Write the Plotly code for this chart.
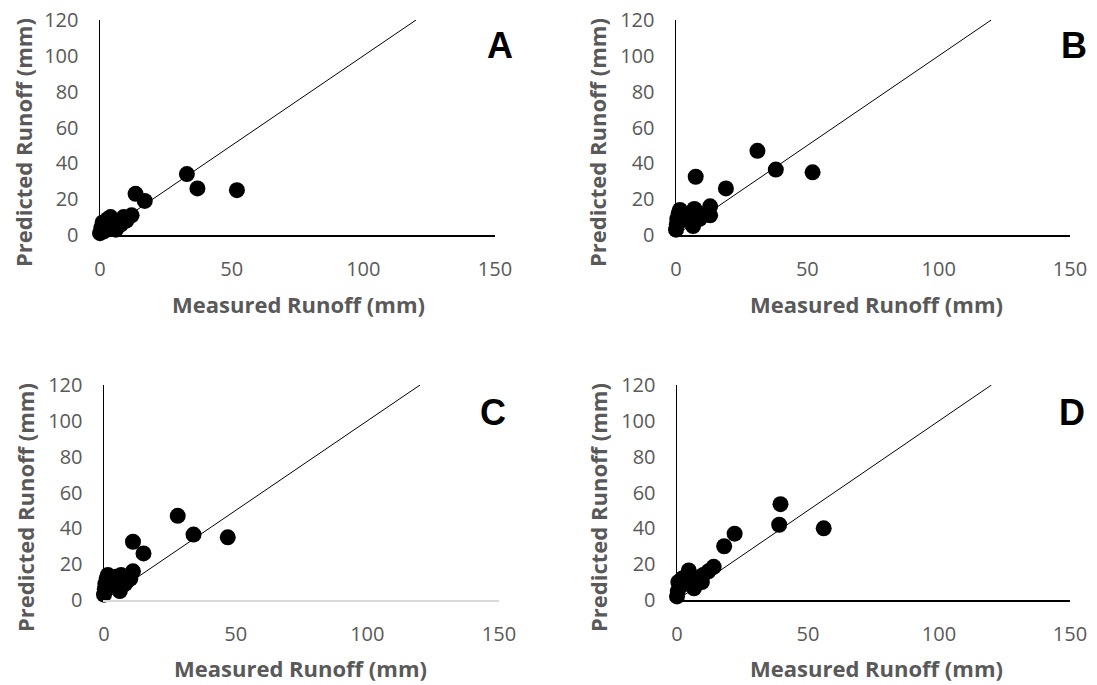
import plotly.graph_objects as go

# ---- data ----
panel_labels = ["A", "B", "C", "D"]

measured_A = [0, 0.5, 1, 1.5, 2, 3, 4, 5, 6, 7, 8, 9, 10, 12, 13.5, 17, 33, 37, 52]
predicted_A = [1, 4, 7, 2, 6, 9, 10, 5, 3, 7, 6, 10, 8, 11, 23, 19, 34, 26, 25]

measured_B = [0, 0.3, 0.5, 1, 1.5, 2, 3, 5, 6.5, 7, 7.5, 9, 10, 13, 13, 19, 31, 38, 52]
predicted_B = [3, 6, 9, 12, 14, 8, 10, 12, 5, 14.5, 32.5, 9, 11, 11, 16, 26, 47, 36.5, 35]

measured_C = [0, 0.3, 0.5, 1, 1.5, 2, 3, 4.5, 6, 6.5, 8, 9, 10, 11, 11, 15, 28, 34, 47]
predicted_C = [3, 6, 9, 12, 14, 8, 10, 13, 5, 14, 9, 11, 12, 16, 32.5, 26, 47, 36.5, 35]

measured_D = [0, 0.3, 0.5, 1, 2, 3, 4.5, 5, 6.5, 8, 9.5, 10, 12, 14, 18, 22, 39, 39.5, 56]
predicted_D = [2, 5, 10, 8, 12, 9, 16.5, 13, 6.5, 12, 10, 14, 16, 18.5, 30, 37, 42, 53.5, 40]

line_1to1 = [0, 120]
x_ticks = [0, 50, 100, 150]
y_ticks = [0, 20, 40, 60, 80, 100, 120]
x_title = "Measured Runoff (mm)"
y_title = "Predicted Runoff (mm)"

series = [(measured_A, predicted_A), (measured_B, predicted_B),
          (measured_C, predicted_C), (measured_D, predicted_D)]

# ---- layout geometry (window pixels) ----
W, H = 1097, 685


def px(p):
    return p / W


def py_(p):
    return 1 - p / H


# (x0px, x150px, y0px, y120px)
boxes = [(100, 495, 235, 20), (676, 1070, 235, 20),
         (104, 499, 600, 385), (677, 1070, 600, 385)]
letter_pos = [(500, 46), (1074, 46), (493, 412), (1072, 412)]
xtitle_pos = [(298, 304), (876, 304), (300, 668), (876, 668)]
ytitle_pos = [(23, 143), (597, 143), (25, 508), (598, 508)]

GRAY = "#595959"
FONT = "Open Sans"

fig = go.Figure()
layout = dict(width=W, height=H, margin=dict(l=0, r=0, t=0, b=0, pad=0),
              autosize=False, template="none",
              plot_bgcolor="white", paper_bgcolor="white", showlegend=False,
              annotations=[])

for i, ((mx, my), (x0, x1, y0, y1)) in enumerate(zip(series, boxes)):
    n = "" if i == 0 else str(i + 1)
    xa, ya = "x" + n, "y" + n
    fig.add_trace(go.Scatter(x=line_1to1, y=line_1to1, mode="lines",
                             line=dict(color="black", width=1),
                             xaxis=xa, yaxis=ya, hoverinfo="skip",
                             cliponaxis=False))
    fig.add_trace(go.Scatter(x=mx, y=my, mode="markers",
                             marker=dict(color="black", size=16, line=dict(width=0)),
                             xaxis=xa, yaxis=ya, cliponaxis=False))
    xcol = "#d9d9d9" if i == 2 else "black"
    layout["xaxis" + n] = dict(domain=[px(x0), px(x1)], range=[0, 150],
                               tickvals=x_ticks, showgrid=False, zeroline=False,
                               showline=True, linecolor=xcol, linewidth=1.5,
                               ticks="", ticklabelstandoff=15, automargin=False,
                               ticklabeloverflow="allow",
                               tickfont=dict(family=FONT, size=20, color=GRAY),
                               anchor=ya, fixedrange=True)
    layout["yaxis" + n] = dict(domain=[py_(y0), py_(y1)], range=[0, 120],
                               tickvals=y_ticks, showgrid=False, zeroline=False,
                               showline=True, linecolor="black", linewidth=1.5,
                               ticks="", ticklabelstandoff=16, automargin=False,
                               ticklabeloverflow="allow",
                               tickfont=dict(family=FONT, size=20, color=GRAY),
                               anchor=xa, fixedrange=True)
    lx, ly = letter_pos[i]
    layout["annotations"].append(dict(text="<b>" + panel_labels[i] + "</b>",
                                      x=px(lx), y=py_(ly), xref="paper", yref="paper",
                                      showarrow=False, xanchor="center", yanchor="middle",
                                      font=dict(family="Liberation Sans", size=36, color="black")))
    tx, ty = xtitle_pos[i]
    layout["annotations"].append(dict(text="<b>" + x_title + "</b>",
                                      x=px(tx), y=py_(ty), xref="paper", yref="paper",
                                      showarrow=False, xanchor="center", yanchor="middle",
                                      font=dict(family=FONT, size=22, color=GRAY)))
    vx, vy = ytitle_pos[i]
    layout["annotations"].append(dict(text="<b>" + y_title + "</b>", textangle=-90,
                                      x=px(vx), y=py_(vy), xref="paper", yref="paper",
                                      showarrow=False, xanchor="center", yanchor="middle",
                                      borderpad=0,
                                      font=dict(family=FONT, size=22, color=GRAY)))

fig.update_layout(**layout)
fig.write_html("out.html",
               config={"displayModeBar": False, "staticPlot": True},
               post_script="document.body.style.margin='0px';"
                           "document.body.style.overflow='hidden';")
